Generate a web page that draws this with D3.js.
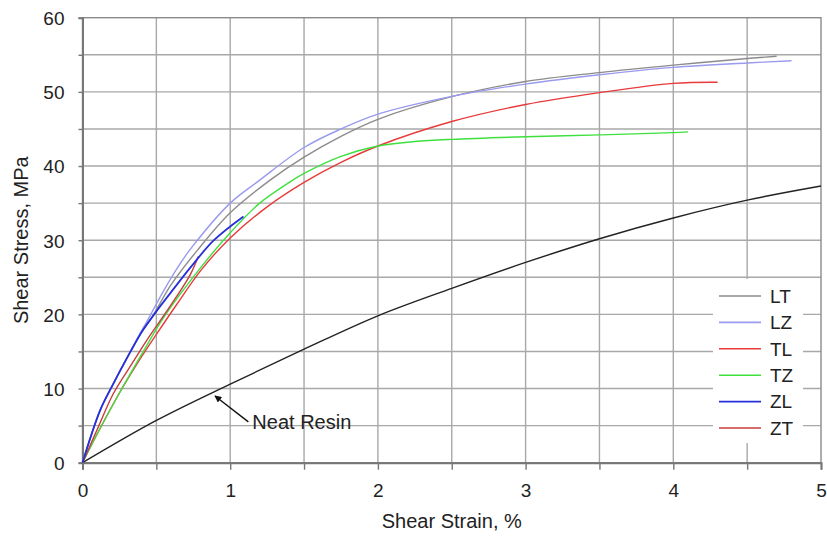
<!DOCTYPE html>
<html>
<head>
<meta charset="utf-8">
<script src="https://cdnjs.cloudflare.com/ajax/libs/d3/7.8.5/d3.min.js"></script>
<style>
  body { margin: 0; background: #fff; }
  .chart text { font-family: "Liberation Sans", Arial, sans-serif; fill: #222; }
  .axis path, .axis line { stroke: #777; }
  .axis text { font-size: 19px; }
</style>
</head>
<body>
<div class="chart"></div>
<script>
// series data: [strain %, stress MPa]
var seriesNames = ["LT", "LZ", "TL", "TZ", "ZL", "ZT"];
var seriesColors = ["#8c8c8c", "#9a9af0", "#e83a3a", "#3ee03e", "#2630d8", "#c83c3c"];

var lt = [[0,0],[0.12,7.1],[0.21,10.7],[0.32,14.8],[0.40,17.6],[0.47,19.6],[0.6,24.0],[0.78,28.7],[1.0,33.7],[1.27,38.1],[1.5,41.2],[1.75,44.0],[2.0,46.3],[2.5,49.35],[3.0,51.4],[3.5,52.6],[4.0,53.6],[4.5,54.5],[4.7,54.8]];
var lz = [[0,0],[0.12,7.1],[0.21,10.7],[0.32,14.8],[0.40,17.8],[0.435,19.0],[0.55,23.2],[0.66,26.8],[0.75,29.3],[1.0,35.0],[1.2,38.1],[1.5,42.5],[1.75,45.0],[2.0,47.0],[2.5,49.4],[3.0,51.05],[3.5,52.3],[4.0,53.3],[4.5,53.9],[4.8,54.2]];
var tl = [[0,0],[0.1,3.9],[0.25,9.4],[0.4,14.3],[0.5,17.3],[0.64,21.4],[0.8,25.9],[1.0,30.3],[1.25,34.5],[1.5,37.8],[1.75,40.5],[2.0,42.7],[2.5,46.0],[3.0,48.3],[3.5,49.9],[4.0,51.15],[4.3,51.3]];
var tz = [[0,0],[0.1,3.9],[0.25,9.4],[0.4,14.6],[0.55,19.6],[0.8,26.3],[1.0,31.0],[1.2,35.0],[1.4,37.8],[1.5,39.0],[1.75,41.3],[2.0,42.7],[2.25,43.3],[2.5,43.6],[3.0,43.95],[3.5,44.2],[4.0,44.5],[4.1,44.6]];
var zl = [[0,0],[0.12,7.1],[0.21,10.7],[0.32,14.8],[0.40,17.6],[0.5,20.4],[0.6,23.0],[0.73,26.3],[0.89,30.0],[1.09,33.2]];
var zt = [[0,0],[0.1,4.5],[0.21,9.36],[0.33,13.2],[0.435,16.5],[0.59,21.0],[0.728,25.3],[0.784,27.8]];
var neatResin = [[0,0],[0.5,5.7],[1.0,10.6],[1.5,15.3],[2.0,19.8],[2.5,23.5],[3.0,27.0],[3.5,30.2],[4.0,33.0],[4.5,35.4],[5.0,37.3]];

var xTicks = [0, 1, 2, 3, 4, 5];
var yTicks = [0, 10, 20, 30, 40, 50, 60];

var svgWidth = 827;
var svgHeight = 540;

var margin = {
  top: 17.7,
  right: 6,
  bottom: 77.3,
  left: 82.5
};

var width = svgWidth - margin.left - margin.right;
var height = svgHeight - margin.top - margin.bottom;

var svg = d3.select(".chart")
  .append("svg")
  .attr("width", svgWidth)
  .attr("height", svgHeight);

var chartGroup = svg.append("g")
  .attr("transform", `translate(${margin.left}, ${margin.top})`);

// scales
var xLinearScale = d3.scaleLinear().domain([0, 5]).range([0, width]);
var yLinearScale = d3.scaleLinear().domain([0, 60]).range([height, 0]);

// grid, every 0.5 % and every 5 MPa
chartGroup.append("g")
  .selectAll("line")
  .data(d3.range(0.5, 5, 0.5))
  .enter()
  .append("line")
  .attr("x1", d => xLinearScale(d))
  .attr("x2", d => xLinearScale(d))
  .attr("y1", 0)
  .attr("y2", height)
  .attr("stroke", "#a8a8a8")
  .attr("stroke-width", 1.4);

chartGroup.append("g")
  .selectAll("line")
  .data(d3.range(5, 60, 5))
  .enter()
  .append("line")
  .attr("x1", 0)
  .attr("x2", width)
  .attr("y1", d => yLinearScale(d))
  .attr("y2", d => yLinearScale(d))
  .attr("stroke", "#a8a8a8")
  .attr("stroke-width", 1.4);

// frame
chartGroup.append("rect")
  .attr("width", width)
  .attr("height", height)
  .attr("fill", "none")
  .attr("stroke", "#8a8a8a")
  .attr("stroke-width", 1.4);

// axes
var bottomAxis = d3.axisBottom(xLinearScale)
  .tickValues(d3.range(0, 5.01, 0.5))
  .tickSizeOuter(0)
  .tickSize(7)
  .tickPadding(14)
  .tickFormat(d => xTicks.indexOf(d) >= 0 ? d : "");
var leftAxis = d3.axisLeft(yLinearScale)
  .tickValues(d3.range(0, 60.01, 5))
  .tickSizeOuter(0)
  .tickSize(4)
  .tickPadding(14)
  .tickFormat(d => yTicks.indexOf(d) >= 0 ? d : "");

var xAxisG = chartGroup.append("g")
  .attr("class", "axis")
  .attr("transform", `translate(0, ${height})`)
  .call(bottomAxis);
xAxisG.select(".domain").attr("stroke-width", 2);
xAxisG.selectAll("line").attr("stroke-width", 1.4);

var yAxisG = chartGroup.append("g")
  .attr("class", "axis")
  .call(leftAxis);
yAxisG.select(".domain").attr("stroke-width", 2);
yAxisG.selectAll("line").attr("stroke-width", 1.4);
yAxisG.selectAll("text").attr("dy", "0.36em");

// curves
var line = d3.line()
  .x(d => xLinearScale(d[0]))
  .y(d => yLinearScale(d[1]))
  .curve(d3.curveCatmullRom.alpha(0.5));

chartGroup.append("path")
  .datum(neatResin)
  .attr("d", line)
  .attr("fill", "none")
  .attr("stroke", "#222")
  .attr("stroke-width", 1.4);

var allSeries = [lt, lz, tl, tz, zt, zl];
var order = [0, 1, 2, 3, 5, 4];
allSeries.forEach(function(s, i) {
  chartGroup.append("path")
    .datum(s)
    .attr("d", line)
    .attr("fill", "none")
    .attr("stroke", seriesColors[order[i]])
    .attr("stroke-width", order[i] == 4 ? 1.8 : 1.4);
});

// arrow + label for the neat resin curve
svg.append("defs").append("marker")
  .attr("id", "arrow")
  .attr("viewBox", "0 0 10 10")
  .attr("refX", 9)
  .attr("refY", 5)
  .attr("markerWidth", 9)
  .attr("markerHeight", 7)
  .attr("markerUnits", "userSpaceOnUse")
  .attr("orient", "auto")
  .append("path")
  .attr("d", "M0,0L10,5L0,10Z")
  .attr("fill", "#111");

chartGroup.append("line")
  .attr("x1", xLinearScale(1.123))
  .attr("y1", yLinearScale(5.5))
  .attr("x2", xLinearScale(0.897))
  .attr("y2", yLinearScale(9.0))
  .attr("stroke", "#111")
  .attr("stroke-width", 1.4)
  .attr("marker-end", "url(#arrow)");

chartGroup.append("text")
  .attr("x", xLinearScale(1.15))
  .attr("y", yLinearScale(4.6))
  .attr("font-size", "20px")
  .text("Neat Resin");

// legend
var legend = svg.append("g");
legend.append("rect")
  .attr("x", 713)
  .attr("y", 279)
  .attr("width", 90)
  .attr("height", 164)
  .attr("fill", "#fff");

seriesNames.forEach(function(name, i) {
  var y = 296 + i * 26.4;
  legend.append("line")
    .attr("x1", 719)
    .attr("x2", 761)
    .attr("y1", y)
    .attr("y2", y)
    .attr("stroke", seriesColors[i])
    .attr("stroke-width", 1.6);
  legend.append("text")
    .attr("x", 770)
    .attr("y", y)
    .attr("dy", "0.36em")
    .attr("font-size", "19px")
    .text(name);
});

// axis titles
chartGroup.append("text")
  .attr("transform", "rotate(-90)")
  .attr("x", -height / 2)
  .attr("y", 21 - margin.left)
  .attr("dy", "0.36em")
  .attr("text-anchor", "middle")
  .attr("font-size", "20px")
  .text("Shear Stress, MPa");

chartGroup.append("text")
  .attr("x", width / 2)
  .attr("y", height + 65)
  .attr("text-anchor", "middle")
  .attr("font-size", "20px")
  .text("Shear Strain, %");
</script>
</body>
</html>
